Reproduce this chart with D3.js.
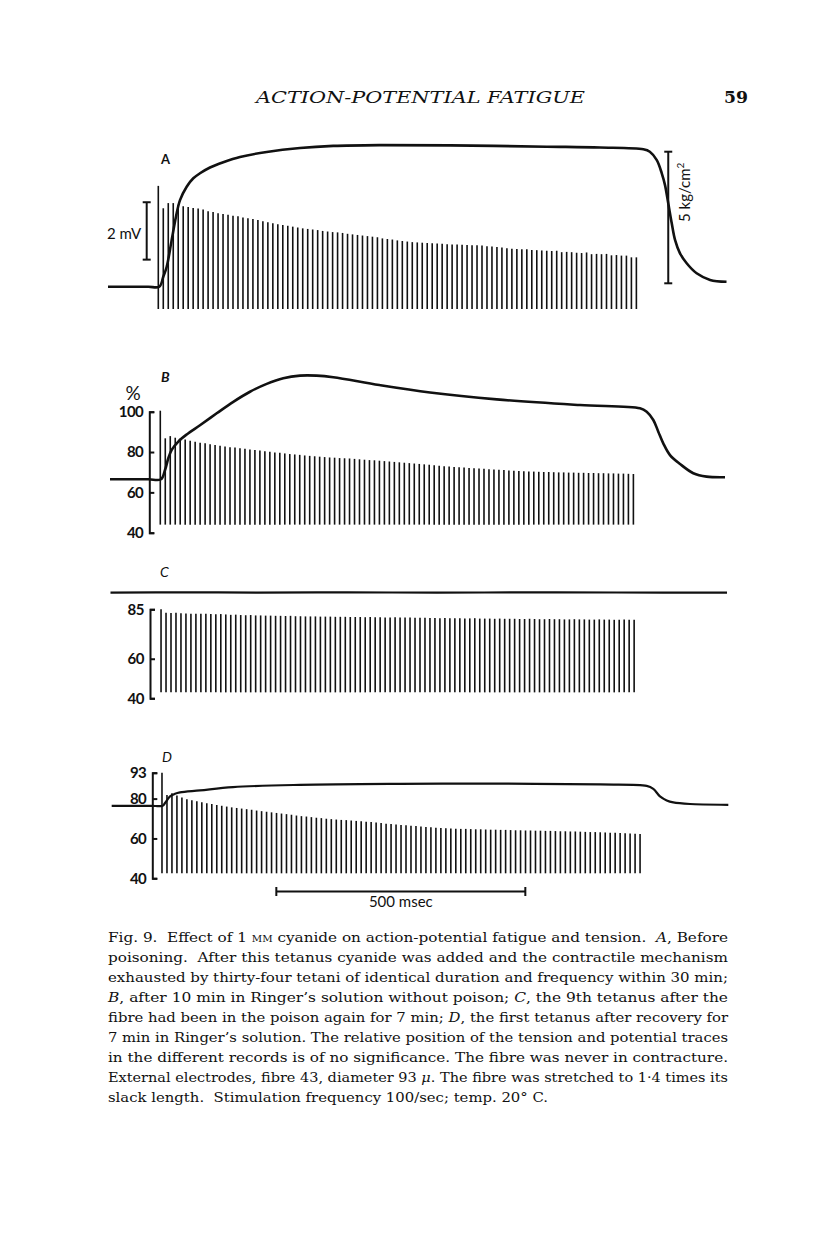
<!DOCTYPE html>
<html>
<head>
<meta charset="utf-8">
<script src="https://cdn.jsdelivr.net/npm/d3@7"></script>
<style>
  body { margin: 0; background: #fff; }
  svg { display: block; }
  text { fill: #111; }
</style>
</head>
<body>
<svg id="fig" width="816" height="1249"></svg>
<script>
// ---- data ----
// stimulus interval (100/sec) and first-stimulus time of each record, msec
const stimInterval = 10;
const stimStart = { A: 0, B: 4, C: 5.5, D: 7.4 };

// A: action-potential heights, mV above the foot of the spikes
const spikesA = [4.29, 3.51, 3.69, 3.69, 3.63, 3.58, 3.55, 3.52, 3.50, 3.47,
  3.41, 3.38, 3.34, 3.31, 3.28, 3.25, 3.23, 3.19, 3.16, 3.14,
  3.10, 3.06, 3.02, 2.99, 2.95, 2.93, 2.90, 2.87, 2.84, 2.81,
  2.79, 2.77, 2.75, 2.72, 2.70, 2.68, 2.67, 2.65, 2.62, 2.60,
  2.58, 2.56, 2.54, 2.52, 2.50, 2.46, 2.44, 2.42, 2.39, 2.37,
  2.35, 2.33, 2.32, 2.31, 2.30, 2.29, 2.28, 2.27, 2.26, 2.25,
  2.25, 2.24, 2.23, 2.22, 2.22, 2.21, 2.19, 2.18, 2.16, 2.14,
  2.12, 2.10, 2.09, 2.08, 2.08, 2.06, 2.05, 2.04, 2.03, 2.02,
  2.03, 1.98, 1.99, 1.98, 1.96, 1.95, 1.97, 1.91, 1.92, 1.91,
  1.92, 1.87, 1.88, 1.86, 1.86, 1.80, 1.80];

// B, C, D: spike tops on the % scale
const spikesB = [100.5, 86.8, 87.9, 87.1, 86.6, 86.2, 85.6, 85.1, 84.6, 84.3,
  83.9, 83.5, 83.1, 82.7, 82.4, 82.2, 81.9, 81.6, 81.3, 81.0,
  80.7, 80.4, 80.1, 79.8, 79.6, 79.3, 79.0, 78.8, 78.6, 78.3,
  78.1, 77.9, 77.7, 77.5, 77.3, 77.2, 77.0, 76.9, 76.8, 76.6,
  76.4, 76.2, 76.0, 75.9, 75.7, 75.5, 75.3, 75.1, 74.9, 74.7,
  74.5, 74.3, 74.1, 73.9, 73.7, 73.4, 73.2, 73.0, 72.8, 72.6,
  72.4, 72.3, 72.1, 72.0, 71.8, 71.7, 71.5, 71.4, 71.2, 71.1,
  70.9, 70.7, 70.6, 70.5, 70.4, 70.3, 70.2, 70.1, 70.1, 70.0,
  69.9, 69.9, 69.8, 69.8, 69.7, 69.7, 69.6, 69.6, 69.5, 69.5,
  69.4, 69.4, 69.3, 69.3, 69.2, 69.1];

const spikesC = [85.0, 83.3, 83.1, 83.2, 83.0, 82.9, 82.8, 82.8, 82.7, 82.7,
  82.6, 82.5, 82.6, 82.4, 82.2, 82.3, 82.1, 82.0, 82.1, 81.9,
  81.9, 81.8, 81.8, 81.7, 81.7, 81.6, 81.7, 81.5, 81.5, 81.4,
  81.4, 81.4, 81.3, 81.3, 81.3, 81.2, 81.2, 81.2, 81.1, 81.1,
  81.1, 81.0, 81.1, 81.0, 81.0, 80.9, 80.9, 81.0, 80.8, 80.8,
  80.8, 80.7, 80.7, 80.7, 80.6, 80.6, 80.5, 80.6, 80.5, 80.5,
  80.5, 80.4, 80.4, 80.5, 80.3, 80.3, 80.3, 80.2, 80.3, 80.2,
  80.2, 80.2, 80.1, 80.1, 80.2, 80.1, 80.0, 80.0, 80.1, 80.0,
  80.0, 79.9, 79.9, 80.0, 79.9, 79.9, 79.8, 79.8, 79.9, 79.8,
  79.8, 79.7, 79.7, 79.8, 79.7, 79.7];

const spikesD = [93.0, 81.8, 82.7, 81.5, 80.5, 79.7, 79.2, 78.7, 78.2, 77.7,
  77.3, 76.8, 76.4, 76.0, 75.6, 75.3, 75.0, 74.7, 74.4, 74.0,
  73.7, 73.4, 73.1, 72.8, 72.5, 72.2, 71.9, 71.5, 71.2, 71.0,
  70.7, 70.4, 70.2, 69.9, 69.7, 69.5, 69.3, 69.2, 69.0, 68.8,
  68.6, 68.4, 68.2, 68.0, 67.7, 67.4, 67.2, 67.0, 66.8, 66.6,
  66.4, 66.2, 66.0, 65.8, 65.6, 65.4, 65.2, 65.1, 65.0, 64.9,
  64.8, 64.8, 64.7, 64.6, 64.6, 64.5, 64.4, 64.4, 64.3, 64.3,
  64.2, 64.1, 64.1, 64.0, 64.0, 63.9, 63.9, 63.8, 63.8, 63.7,
  63.6, 63.6, 63.5, 63.5, 63.4, 63.3, 63.2, 63.2, 63.1, 63.0,
  62.9, 62.8, 62.7, 62.6, 62.5, 62.3, 62.2];

// foot of the spikes in each record
const spikeFoot = { A: 0, B: 44.0, C: 43.0, D: 42.5 };

// tension traces: [msec, value]; A in kg/cm2, B-D on the % scale
const tensionA = [[-101, -0.13], [-60, -0.13], [-20, -0.13], [2, -0.13], [10, 0.25],
  [16.9, 0.63], [26.9, 1.65], [35.5, 2.53], [43.6, 3.16], [57, 3.67], [70.3, 3.99],
  [83.7, 4.18], [103.8, 4.40], [130.5, 4.60], [164, 4.80], [217.7, 4.99], [284.5, 5.14],
  [351.4, 5.22], [443.8, 5.25], [586, 5.24], [780, 5.19], [887, 5.16], [974, 5.09],
  [987, 5.0], [1001, 4.68], [1011, 4.18], [1017.5, 3.73], [1024, 3.04], [1031, 2.28],
  [1037.6, 1.65], [1047.6, 1.14], [1061, 0.76], [1081, 0.38], [1108, 0.13], [1141, 0.06]];

const tensionB = [[-97, 66.5], [-60, 66.5], [-20, 66.5], [5.4, 66.5], [13.5, 71.1],
  [20.1, 76.9], [26.9, 81.1], [40.2, 85.2], [57, 88.7], [83.7, 93.3], [117.3, 99.2],
  [150.6, 104.9], [184.1, 109.9], [217.7, 113.8], [251, 116.6], [284.5, 117.9],
  [318, 117.9], [351.4, 117.1], [443.8, 113.2], [545.6, 109.5], [679.5, 106.1],
  [846.8, 103.3], [967.3, 101.7], [980.7, 100.0], [994, 95.9], [1004, 90.1],
  [1014, 84.3], [1027.5, 78.5], [1047.6, 74.1], [1074.3, 69.5], [1101, 67.8], [1138, 67.5]];

const tensionC = [[-96, 93.4], [60, 93.6], [200, 93.4], [380, 93.6], [560, 93.4],
  [740, 93.6], [920, 93.5], [1142, 93.4]];

const tensionD = [[-93.6, 76.4], [-50, 76.4], [-15, 76.4], [8.8, 76.4], [13.5, 77.8],
  [23.5, 81.1], [33.5, 82.4], [43.6, 83.1], [83.7, 84.1], [150, 85.8], [284.5, 86.9],
  [485.3, 87.4], [686, 87.5], [887, 87.1], [980.7, 86.4], [994, 84.9], [1007.4, 81.1],
  [1020.9, 79.1], [1034.1, 78.1], [1067.7, 77.3], [1144.6, 76.9]];

// axis ticks
const ticksB = [40, 60, 80, 100];
const ticksC = [40, 60, 85];
const ticksD = [40, 60, 80, 93];

const captionLines = [
  [["Fig. 9.  Effect of 1 "], ["mm", "sc"], [" cyanide on action-potential fatigue and tension.  "], ["A", "i"], [", Before"]],
  [["poisoning.  After this tetanus cyanide was added and the contractile mechanism"]],
  [["exhausted by thirty-four tetani of identical duration and frequency within 30 min;"]],
  [["B", "i"], [", after 10 min in Ringer\u2019s solution without poison; "], ["C", "i"], [", the 9th tetanus after the"]],
  [["fibre had been in the poison again for 7 min; "], ["D", "i"], [", the first tetanus after recovery for"]],
  [["7 min in Ringer\u2019s solution. The relative position of the tension and potential traces"]],
  [["in the different records is of no significance. The fibre was never in contracture."]],
  [["External electrodes, fibre 43, diameter 93 "], ["\u03bc", "i"], [". The fibre was stretched to 1\u00b74 times its"]],
  [["slack length.  Stimulation frequency 100/sec; temp. 20\u00b0 C."]]
];

// ---- layout ----
const svg = d3.select('#fig');
const sans = 'Lato, "Open Sans", sans-serif';
const serif = '"DejaVu Serif", serif';

// common time axis, msec -> px
const x = d3.scaleLinear().domain([0, 1000]).range([158.3, 656.3]);

const yA = d3.scaleLinear().domain([0, 1]).range([309, 280.3]);          // mV
const yTA = d3.scaleLinear().domain([0, 5]).range([283.3, 151.7]);       // kg/cm2
const yB = d3.scaleLinear().domain([40, 100]).range([532.7, 411.7]);
const yC = d3.scaleLinear().domain([40, 85]).range([698.3, 609.3]);
const yD = d3.scaleLinear().domain([40, 93]).range([878.3, 772.7]);

function drawSpikes(data, start, foot, y) {
  svg.append('g')
    .selectAll('line')
    .data(data)
    .join('line')
      .attr('x1', (d, i) => x(start + i * stimInterval))
      .attr('x2', (d, i) => x(start + i * stimInterval))
      .attr('y1', y(foot))
      .attr('y2', d => y(d))
      .attr('stroke', '#111')
      .attr('stroke-width', 1.6);
}

function drawTension(data, y, width) {
  const line = d3.line()
    .x(d => x(d[0]))
    .y(d => y(d[1]))
    .curve(d3.curveCatmullRom.alpha(0.5));
  svg.append('path')
    .datum(data)
    .attr('d', line)
    .attr('fill', 'none')
    .attr('stroke', '#111')
    .attr('stroke-width', width)
    .attr('stroke-linejoin', 'round');
}

function drawAxis(y, ticks, xPos) {
  const g = svg.append('g')
    .attr('transform', `translate(${xPos},0)`)
    .call(d3.axisLeft(y).tickValues(ticks).tickSizeInner(-5).tickSizeOuter(-5)
      .tickPadding(6).tickFormat(d3.format('d')));
  g.select('.domain').attr('stroke', '#111').attr('stroke-width', 2);
  g.selectAll('.tick line').attr('stroke', '#111').attr('stroke-width', 2);
  g.selectAll('.tick text')
    .attr('fill', '#111')
    .style('font-family', sans)
    .style('font-size', '15px')
    .style('font-weight', 700)
    .style('letter-spacing', '-0.5px');
}

function vBar(xPos, y0, y1) {
  const g = svg.append('g').attr('stroke', '#111').attr('stroke-width', 2);
  g.append('line').attr('x1', xPos).attr('x2', xPos).attr('y1', y0).attr('y2', y1);
  g.append('line').attr('x1', xPos - 4).attr('x2', xPos + 4).attr('y1', y0).attr('y2', y0);
  g.append('line').attr('x1', xPos - 4).attr('x2', xPos + 4).attr('y1', y1).attr('y2', y1);
}

function label(txt, xPos, yPos, opts = {}) {
  return svg.append('text')
    .attr('x', xPos).attr('y', yPos)
    .attr('text-anchor', opts.anchor || 'start')
    .style('font-family', opts.family || sans)
    .style('font-size', (opts.size || 14) + 'px')
    .style('font-style', opts.italic ? 'italic' : 'normal')
    .style('font-weight', opts.weight || 400)
    .text(txt);
}

// ---- running head ----
label('ACTION-POTENTIAL FATIGUE', 256, 103, { family: serif, size: 17, italic: true })
  .attr('textLength', 329).attr('lengthAdjust', 'spacingAndGlyphs');
label('59', 724, 103, { family: serif, size: 17, weight: 700 })
  .attr('textLength', 24).attr('lengthAdjust', 'spacingAndGlyphs');

// ---- A ----
label('A', 161, 164, { size: 13, weight: 700 });
drawTension(tensionA, yTA, 2.6);
drawSpikes(spikesA, stimStart.A, spikeFoot.A, yA);
vBar(x(-23.3), yA(1.72), yA(3.72));
label('2 mV', 107, 239, { size: 15 });
vBar(x(1024), yTA(0), yTA(5));
label('5 kg/cm', 0, 0, { size: 15 })
  .attr('transform', `translate(690,222) rotate(-90)`)
  .append('tspan').attr('dy', -6).style('font-size', '10px').text('2');

// ---- B ----
label('B', 161, 382, { size: 14, italic: true, weight: 700 });
label('%', 133, 400, { size: 19, anchor: 'middle' });
drawAxis(yB, ticksB, 149.3);
drawTension(tensionB, yB, 2.6);
drawSpikes(spikesB, stimStart.B, spikeFoot.B, yB);

// ---- C ----
label('C', 160, 577, { size: 14, italic: true });
drawAxis(yC, ticksC, 150);
drawTension(tensionC, yC, 2.2);
drawSpikes(spikesC, stimStart.C, spikeFoot.C, yC);

// ---- D ----
label('D', 162, 762, { size: 14, italic: true });
drawAxis(yD, ticksD, 152.3);
drawTension(tensionD, yD, 2.2);
drawSpikes(spikesD, stimStart.D, spikeFoot.D, yD);

// time bar, 500 msec
const tb = svg.append('g').attr('stroke', '#111').attr('stroke-width', 2);
tb.append('line').attr('x1', x(237)).attr('x2', x(737)).attr('y1', 891.5).attr('y2', 891.5);
tb.append('line').attr('x1', x(237)).attr('x2', x(237)).attr('y1', 887).attr('y2', 896);
tb.append('line').attr('x1', x(737)).attr('x2', x(737)).attr('y1', 887).attr('y2', 896);
label('500 msec', x(487), 907, { size: 15, anchor: 'middle' });

// ---- caption ----
captionLines.forEach((segs, i) => {
  const t = svg.append('text')
    .attr('x', 108).attr('y', 942 + i * 20)
    .attr('textLength', i === captionLines.length - 1 ? 440 : 620)
    .attr('lengthAdjust', 'spacingAndGlyphs')
    .style('font-family', serif)
    .style('font-size', '13.5px')
    .style('white-space', 'pre');
  segs.forEach(([s, kind]) => {
    const ts = t.append('tspan').text(s);
    if (kind === 'i') ts.style('font-style', 'italic');
    if (kind === 'sc') ts.style('font-variant', 'small-caps');
  });
});
</script>
</body>
</html>
